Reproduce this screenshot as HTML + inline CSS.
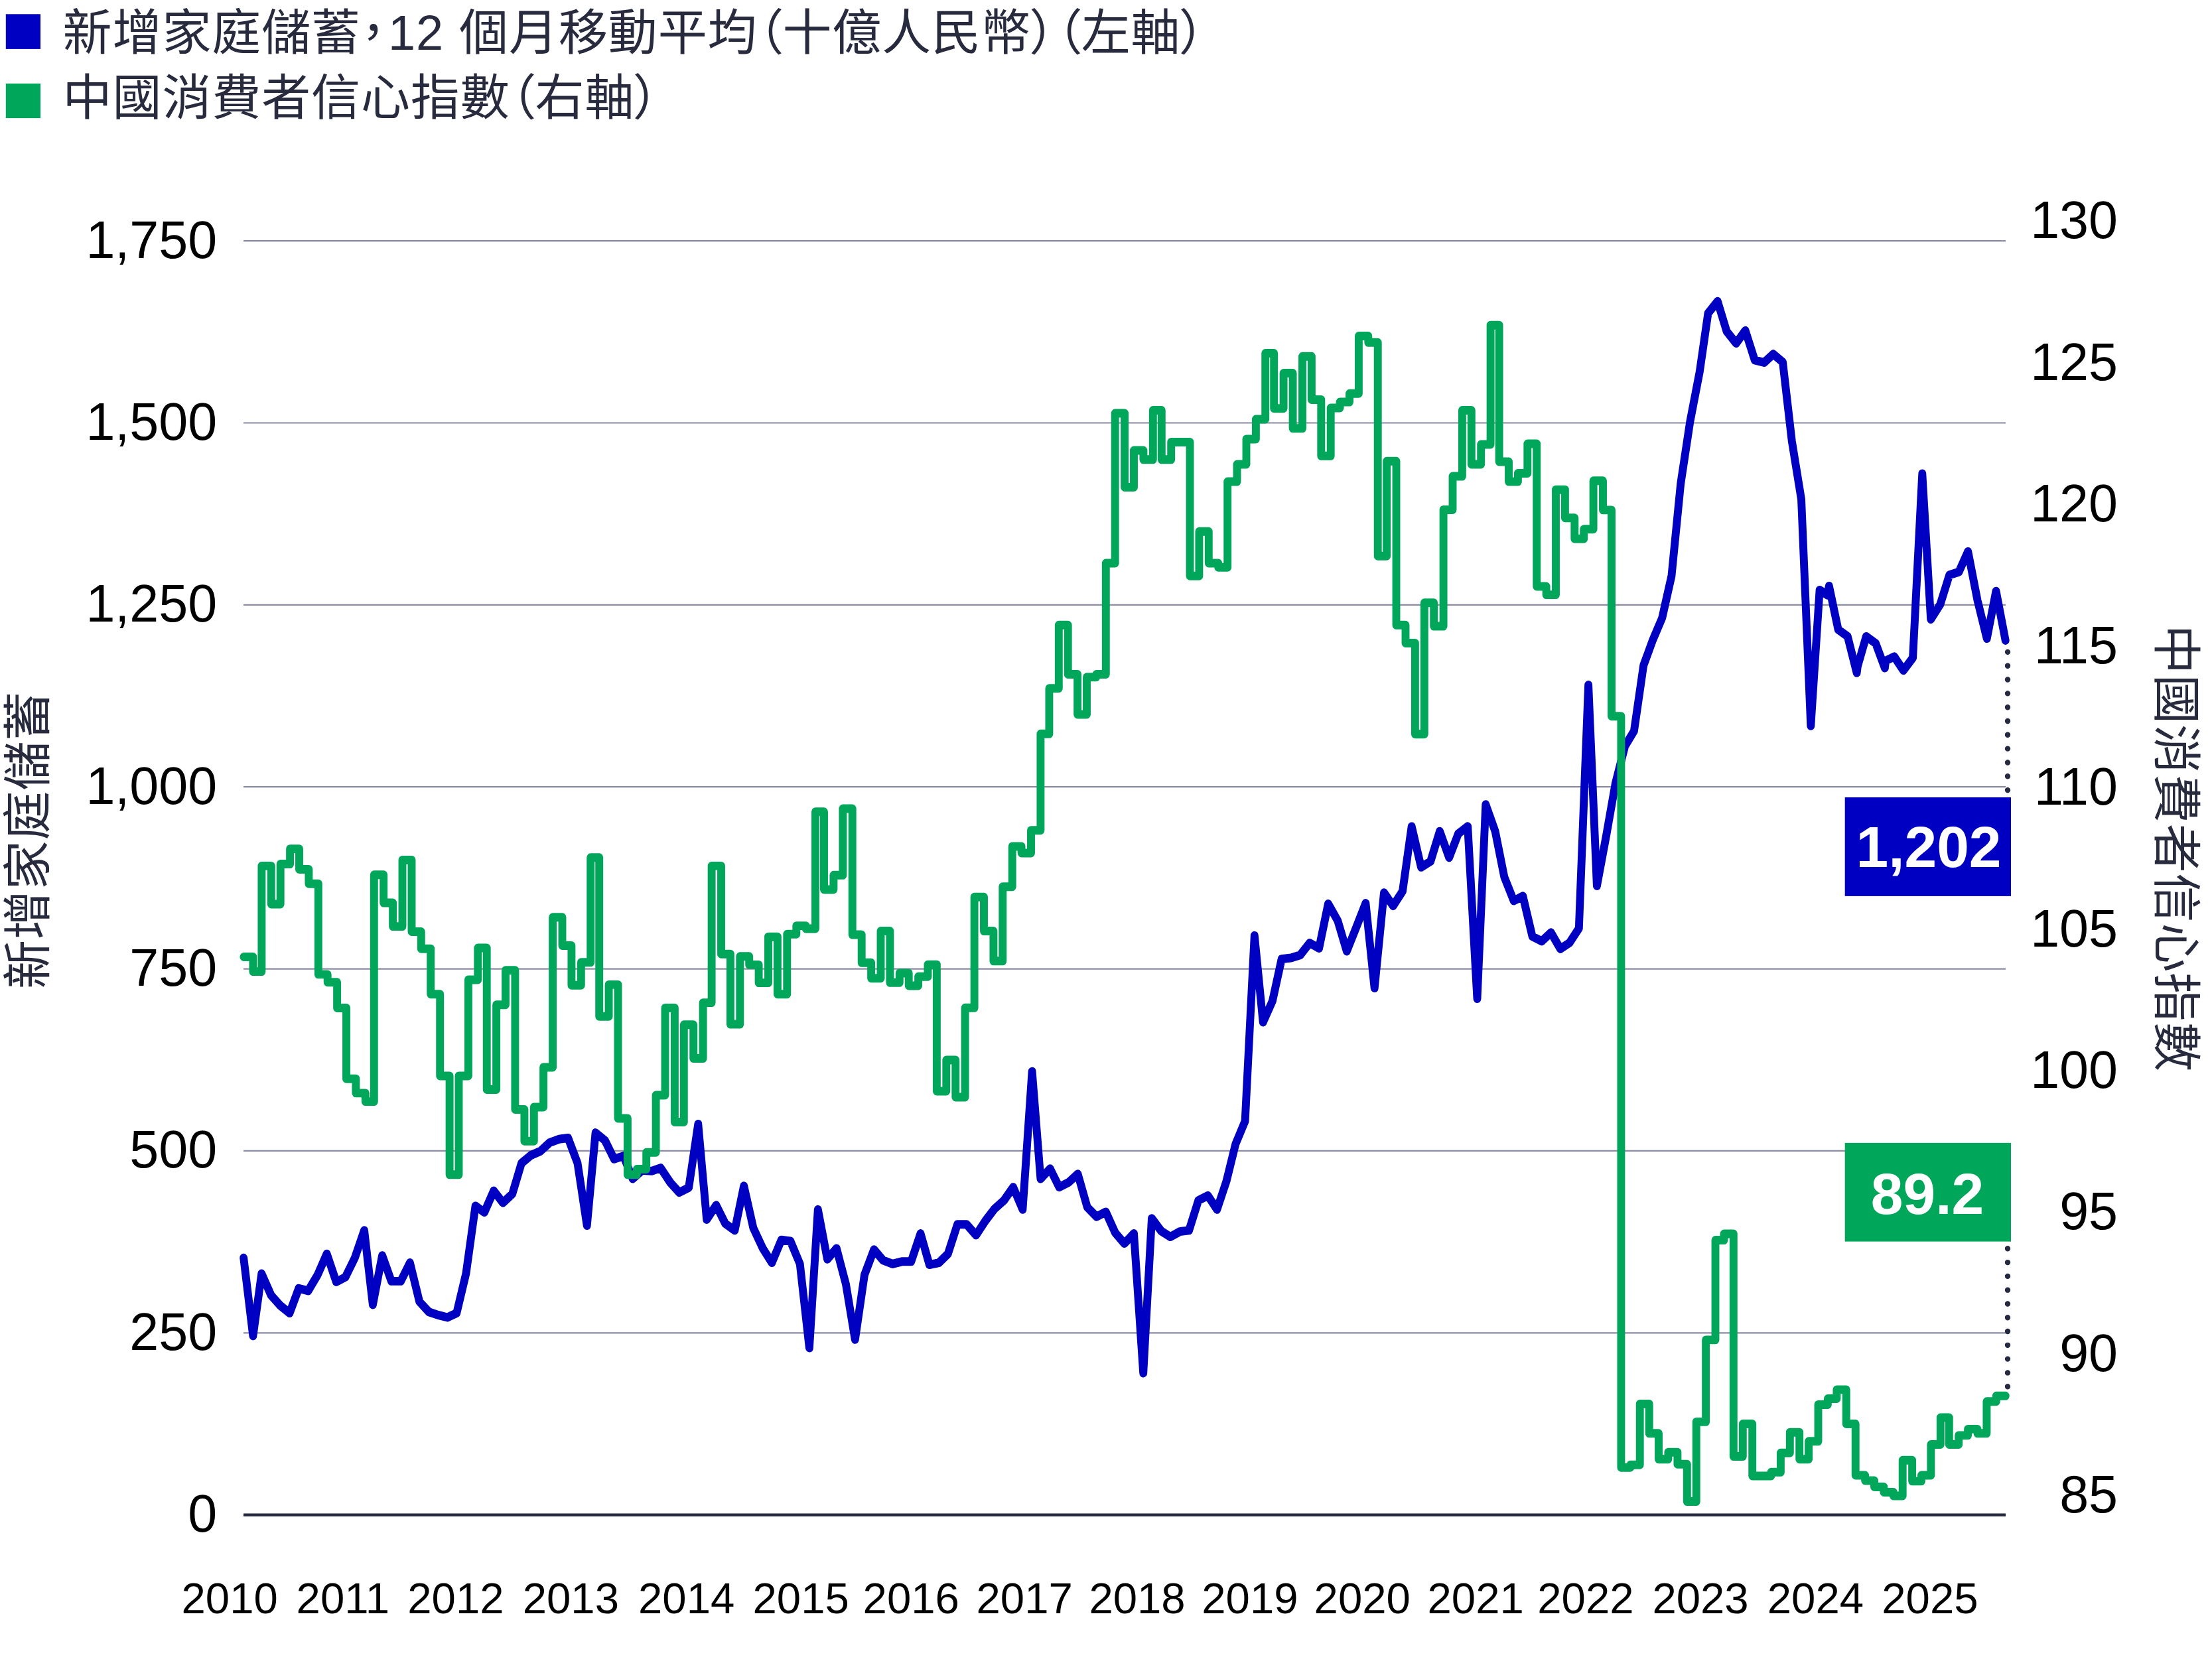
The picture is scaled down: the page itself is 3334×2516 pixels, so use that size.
<!DOCTYPE html>
<html lang="zh-Hant"><head><meta charset="utf-8"><title>新增家庭儲蓄與中國消費者信心指數</title>
<style>
html,body{margin:0;padding:0;background:#fff;}
body{width:3334px;height:2516px;overflow:hidden;}
svg{display:block;}
text{font-family:'Liberation Sans','Noto Sans CJK TC',sans-serif;}
.lg{font-size:74px;letter-spacing:0.9px;fill:#282b3e;font-feature-settings:"palt" 1;}
.ax{font-size:79px;fill:#000;}
.xl{font-size:65.3px;fill:#000;}
.ti{font-size:74px;letter-spacing:0.9px;fill:#282b3e;}
.vb{font-size:87.5px;font-weight:bold;fill:#fff;}
</style></head><body>
<svg width="3334" height="2516" viewBox="0 0 3334 2516">
<rect width="3334" height="2516" fill="#fff"/>
<rect x="8.8" y="21.3" width="52.2" height="52.6" fill="#0000c3"/>
<rect x="8.8" y="125.9" width="52.2" height="52.2" fill="#00a65a"/>
<text class="lg" x="94.6" y="75.2">新增家庭儲蓄，<tspan dx="3">12</tspan><tspan dx="1.6"> 個月移動平均（十億人民幣）（左軸）</tspan></text>
<text class="lg" x="94.6" y="173.2">中國消費者信心指數（右軸）</text>
<line x1="367" x2="3023" y1="363.1" y2="363.1" stroke="#8c8ca2" stroke-width="2.2"/>
<line x1="367" x2="3023" y1="637.5" y2="637.5" stroke="#8c8ca2" stroke-width="2.2"/>
<line x1="367" x2="3023" y1="911.8" y2="911.8" stroke="#8c8ca2" stroke-width="2.2"/>
<line x1="367" x2="3023" y1="1186.2" y2="1186.2" stroke="#8c8ca2" stroke-width="2.2"/>
<line x1="367" x2="3023" y1="1460.6" y2="1460.6" stroke="#8c8ca2" stroke-width="2.2"/>
<line x1="367" x2="3023" y1="1734.9" y2="1734.9" stroke="#8c8ca2" stroke-width="2.2"/>
<line x1="367" x2="3023" y1="2009.3" y2="2009.3" stroke="#8c8ca2" stroke-width="2.2"/>
<line x1="367" x2="3023" y1="2283.7" y2="2283.7" stroke="#262a40" stroke-width="4.6"/>
<text class="ax" x="327.1" y="388.5" text-anchor="end">1,750</text>
<text class="ax" x="327.1" y="662.9" text-anchor="end">1,500</text>
<text class="ax" x="327.1" y="937.2" text-anchor="end">1,250</text>
<text class="ax" x="327.1" y="1211.6" text-anchor="end">1,000</text>
<text class="ax" x="327.1" y="1486" text-anchor="end">750</text>
<text class="ax" x="327.1" y="1760.3" text-anchor="end">500</text>
<text class="ax" x="327.1" y="2034.7" text-anchor="end">250</text>
<text class="ax" x="327.1" y="2309.1" text-anchor="end">0</text>
<text class="ax" x="3192" y="359.2" text-anchor="end">130</text>
<text class="ax" x="3192" y="572.6" text-anchor="end">125</text>
<text class="ax" x="3192" y="786.1" text-anchor="end">120</text>
<text class="ax" x="3192" y="999.5" text-anchor="end">115</text>
<text class="ax" x="3192" y="1213" text-anchor="end">110</text>
<text class="ax" x="3192" y="1426.5" text-anchor="end">105</text>
<text class="ax" x="3192" y="1639.9" text-anchor="end">100</text>
<text class="ax" x="3192" y="1853.3" text-anchor="end">95</text>
<text class="ax" x="3192" y="2066.8" text-anchor="end">90</text>
<text class="ax" x="3192" y="2280.2" text-anchor="end">85</text>
<text class="xl" x="273.5" y="2431.6">2010</text>
<text class="xl" x="446.6" y="2431.6">2011</text>
<text class="xl" x="614.3" y="2431.6">2012</text>
<text class="xl" x="787.7" y="2431.6">2013</text>
<text class="xl" x="962" y="2431.6">2014</text>
<text class="xl" x="1134.5" y="2431.6">2015</text>
<text class="xl" x="1300.6" y="2431.6">2016</text>
<text class="xl" x="1471.5" y="2431.6">2017</text>
<text class="xl" x="1641.4" y="2431.6">2018</text>
<text class="xl" x="1811.3" y="2431.6">2019</text>
<text class="xl" x="1980.6" y="2431.6">2020</text>
<text class="xl" x="2151.5" y="2431.6">2021</text>
<text class="xl" x="2317.3" y="2431.6">2022</text>
<text class="xl" x="2490.4" y="2431.6">2023</text>
<text class="xl" x="2663.8" y="2431.6">2024</text>
<text class="xl" x="2836.3" y="2431.6">2025</text>
<text class="ti" transform="translate(68 1266.4) rotate(-90)" text-anchor="middle">新增家庭儲蓄</text>
<text class="ti" transform="translate(3253.6 1279.1) rotate(90)" text-anchor="middle">中國消費者信心指數</text>
<g transform="scale(1 1.09)" fill="none" stroke-width="11.9" stroke-linejoin="round" stroke-linecap="round">
<path d="M367.2 1739.7 L381.4 1847.6 L394.3 1761.4 L408.5 1791.2 L422.3 1805.5 L436.5 1816.1 L450.3 1781.9 L464.5 1785.2 L478.8 1763 L492.6 1734.1 L506.8 1772.9 L520.6 1766.3 L534.8 1739.7 L549 1701.7 L561.9 1804.5 L576.1 1736.4 L589.9 1771.9 L604.1 1771.9 L617.9 1746.4 L632.2 1800.2 L646.4 1814.4 L660.2 1818.7 L674.4 1822 L688.2 1816.1 L702.4 1761.4 L716.6 1667.8 L730 1676.7 L744.2 1646.9 L758 1663.5 L772.2 1651.2 L786 1608.7 L800.2 1597.8 L814.5 1592.1 L828.2 1580.5 L842.5 1575.5 L856.2 1573.9 L870.5 1608.7 L884.7 1695 L897.6 1566.6 L911.8 1577.2 L925.6 1603 L939.8 1598.7 L953.6 1630.3 L967.8 1618.6 L982.1 1619.6 L995.8 1615.3 L1010.1 1635.2 L1023.8 1649.2 L1038.1 1642.6 L1052.3 1554.6 L1065.2 1686.7 L1079.4 1666.8 L1093.2 1692.3 L1107.4 1701.7 L1121.2 1640.2 L1135.4 1698.3 L1149.7 1726.5 L1163.4 1746.4 L1177.7 1714.9 L1191.4 1716.5 L1205.7 1748.1 L1219.9 1864.2 L1232.8 1672.8 L1247 1741.5 L1260.8 1726.5 L1275 1776.2 L1288.8 1852.6 L1303 1763 L1317.3 1728.2 L1331 1743.1 L1345.3 1748.1 L1359.1 1744.8 L1373.3 1744.8 L1387.5 1706 L1400.8 1749.1 L1415.1 1746.4 L1428.8 1734.1 L1443.1 1693.3 L1456.9 1693.3 L1471.1 1708.3 L1485.3 1688.3 L1499.1 1671.7 L1513.3 1660.1 L1527.1 1641.9 L1541.4 1672.8 L1555.6 1481.9 L1568.4 1630.3 L1582.7 1616.3 L1596.5 1641.9 L1610.7 1635.2 L1624.5 1623.7 L1638.7 1669.4 L1652.9 1682.7 L1666.7 1676.1 L1680.9 1705 L1694.7 1719.8 L1709 1706 L1723.2 1899.1 L1736 1685 L1750.3 1702.6 L1764.1 1710.6 L1778.3 1703.3 L1792.1 1701.7 L1806.3 1660.1 L1820.5 1653.5 L1834.3 1672.8 L1848.5 1633.6 L1862.3 1582.2 L1876.6 1550.6 L1890.8 1293.9 L1903.7 1413.8 L1917.9 1384.4 L1931.7 1326.4 L1945.9 1324.8 L1959.7 1320.9 L1973.9 1304.2 L1988.1 1311.5 L2001.9 1250 L2016.2 1273.2 L2029.9 1315.6 L2044.2 1282.4 L2058.4 1249.2 L2071.7 1366.5 L2086 1234.6 L2099.7 1252.9 L2114 1232.6 L2127.7 1143 L2142 1199.4 L2156.2 1191.2 L2170 1149.7 L2184.2 1186.1 L2198 1153 L2212.2 1143 L2226.5 1381.3 L2239.3 1112.6 L2253.6 1149.7 L2267.3 1212.8 L2281.6 1245.9 L2295.3 1239.3 L2309.6 1295 L2323.8 1301.7 L2337.6 1289.7 L2351.8 1312.3 L2365.6 1303.9 L2379.8 1284 L2394.1 947.2 L2406.9 1225.3 L2421.2 1154.7 L2434.9 1083.3 L2449.2 1031.9 L2462.9 1011 L2477.2 920.2 L2491.4 884.6 L2505.2 854.7 L2519.4 796.7 L2533.2 668.9 L2547.4 582.7 L2561.7 514.6 L2574.5 433.3 L2588.8 416.7 L2602.5 458.3 L2616.8 474.8 L2630.6 457.2 L2644.8 498.1 L2659 501.4 L2672.8 489.7 L2687 500.7 L2700.8 610.2 L2715 690.5 L2729.3 1004 L2742.6 816 L2754.5 823.1 L2756.8 810.5 L2770.6 870.7 L2784.8 880.2 L2798.6 930.5 L2799.9 921.3 L2812.8 880.2 L2827.1 889.8 L2840.9 923.8 L2842.2 913.9 L2855.1 908.1 L2868.9 927.2 L2883.1 909.7 L2897.3 655 L2910.2 856.6 L2924.4 835.9 L2938.2 795.2 L2952.4 791.1 L2966.2 762.8 L2980.5 830.1 L2994.7 883.1 L3008.5 817.6 L3022.7 885.7" stroke="#0000c3"/>
<path d="M367.4 1323.4H381.4V1343.7H394.4V1197.6H408.8V1250.4H422.7V1195H437.1V1174H451V1202.3H465.4V1222.2H479.8V1347.6H493.7V1358.5H508.1V1394H522V1491.9H536.4V1511.8H550.8V1523.5H563.8V1209.9H578.2V1248.7H592.1V1281.3H606.5V1189.4H620.5V1288.5H634.8V1312.1H649.2V1374.9H663.2V1488H677.6V1624.6H691.5V1488H705.9V1355H720.3V1311.1H733.7V1506.9H748.1V1389.7H762V1341.9H776.4V1534.4H790.4V1578.2H804.8V1531.1H819.1V1476.1H833.1V1268.6H847.5V1307.8H861.4V1362.6H875.8V1331H890.2V1186.1H903.2V1405.7H917.6V1361.8H931.5V1546.7H945.9V1624.6H959.8V1617H974.2V1593.8H988.6V1514.7H1002.5V1394H1016.9V1551.8H1030.8V1417.2H1045.2V1463.8H1059.6V1386.8H1072.6V1197.6H1087V1319.4H1100.9V1416.6H1115.3V1322.8H1129.2V1334.3H1143.6V1359.3H1158V1295.6H1171.9V1375H1186.3V1292H1200.3V1280.4H1214.6V1284.4H1229V1122.8H1242V1230.3H1256.4V1210.4H1270.4V1118.4H1284.7V1292.7H1298.7V1331.5H1313.1V1353H1327.5V1287.7H1341.4V1359H1355.8V1345.8H1369.7V1363.3H1384.1V1350.7H1398.5V1334.1H1411.9V1509.2H1426.3V1466.1H1440.3V1517.4H1454.6V1393.9H1468.6V1240.6H1483V1287.7H1497.4V1329.2H1511.3V1226.3H1525.7V1170.6H1539.6V1179.8H1554V1148.3H1568.4V1015H1581.4V952.1H1595.8V864.5H1609.7V932.6H1624.1V988H1638V936.5H1652.4V932.6H1666.8V778.9H1680.7V571.6H1695.1V673.8H1709V622.9H1723.4V635.6H1737.8V567.5H1750.8V635.6H1765.2V611.4H1779.1V611.4H1793.5V796.5H1807.4V735.1H1821.8V778.9H1836.2V784.6H1850.2V666.1H1864.5V642.2H1878.5V607.3H1892.9V579.8H1907.2V488.5H1920.2V564.9H1934.6V516.1H1948.6V592.5H1963V492.9H1976.9V552.7H1991.3V630.6H2005.7V564.2H2019.6V556H2034V544.3H2047.9V464.7H2062.3V473.7H2076.7V769H2090.1V637.9H2104.5V864.5H2118.5V889.4H2132.9V1015.3H2146.8V833.7H2161.2V866.1H2175.6V705H2189.5V658.8H2203.9V567.5H2217.8V642.2H2232.2V614.7H2246.6V449.7H2259.6V638.5H2274V666.1H2287.9V654.5H2302.3V613.8H2316.2V811H2330.6V822.6H2345V677.2H2358.9V716.3H2373.3V745.2H2387.2V731.9H2401.6V665H2416V705.4H2429V990.5H2443.4V2029.6H2457.3V2025.9H2471.7V1941.7H2485.7V1982.4H2500V2018.1H2514.4V2008.4H2528.4V2025H2542.8V2076.7H2556.7V1966.4H2571.1V1853.1H2585.5V1715.2H2598.5V1706.5H2612.8V2014.3H2626.8V1969.3H2641.2V2041.3H2655.1V2041.3H2669.5V2036.1H2683.9V2009.4H2697.8V1980.9H2712.2V2018.1H2726.1V1993.4H2740.5V1942.6H2754.9V1934.4H2768.4V1921.9H2782.7V1969.3H2796.7V2040.4H2811.1V2047.7H2825V2056.4H2839.4V2063.7H2853.8V2068.8H2867.7V2019.5H2882.1V2048.5H2896V2040.4H2910.4V1997.7H2924.8V1960.6H2937.8V1997.7H2952.2V1985.2H2966.1V1976.5H2980.5V1982.4H2994.4V1938.3H3008.8V1930.6H3022.8" stroke="#00a65a"/>
</g>
<line x1="3026" x2="3026" y1="982.9" y2="1200" stroke="#262a40" stroke-width="8.4" stroke-linecap="round" stroke-dasharray="0 20.82"/>
<line x1="3026" x2="3026" y1="1882.3" y2="2095" stroke="#262a40" stroke-width="8.4" stroke-linecap="round" stroke-dasharray="0 20.79"/>
<rect x="2780.7" y="1202" width="250.3" height="148.9" fill="#0000c3"/>
<text class="vb" x="2907" y="1307.2" text-anchor="middle">1,202</text>
<rect x="2780.7" y="1722.9" width="250.3" height="148.7" fill="#00a65a"/>
<text class="vb" x="2905" y="1829.8" text-anchor="middle">89.2</text>
</svg></body></html>
